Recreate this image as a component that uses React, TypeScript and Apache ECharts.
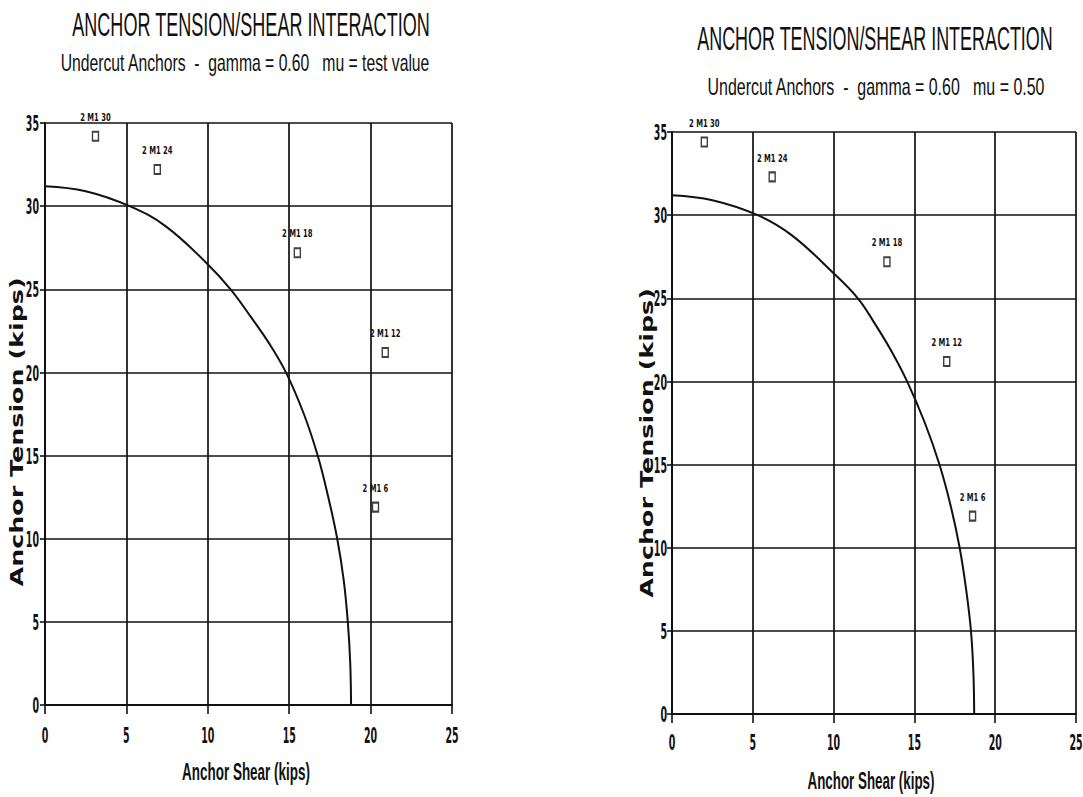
import React, { useEffect, useRef } from "react";
import * as echarts from "echarts";

const TITLE = "ANCHOR TENSION/SHEAR INTERACTION";
const SUBTITLE_LEFT = "Undercut Anchors  -  gamma = 0.60   mu = test value";
const SUBTITLE_RIGHT = "Undercut Anchors  -  gamma = 0.60   mu = 0.50";
const X_NAME = "Anchor Shear (kips)";
const Y_NAME = "Anchor Tension (kips)";

const X_TICKS = [0, 5, 10, 15, 20, 25];
const Y_TICKS = [0, 5, 10, 15, 20, 25, 30, 35];

const TEST_LABELS = ["2 M1 30", "2 M1 24", "2 M1 18", "2 M1 12", "2 M1 6"];
const LEFT_SHEAR = [3.1, 6.9, 15.5, 20.9, 20.3];
const LEFT_TENSION = [34.2, 32.2, 27.2, 21.2, 11.9];
const RIGHT_SHEAR = [2.0, 6.2, 13.3, 17.0, 18.6];
const RIGHT_TENSION = [34.4, 32.3, 27.2, 21.2, 11.9];

const LEFT_CURVE_SHEAR = [0, 2.5, 5.2, 7.4, 9.9, 11.4, 12.6, 13.8, 14.8, 15.9, 16.75, 17.4, 17.95, 18.35, 18.6, 18.75, 18.8];
const LEFT_CURVE_TENSION = [31.2, 30.9, 30, 28.8, 26.6, 25, 23.4, 21.7, 20, 17.5, 15, 12.5, 10, 7.5, 5, 2.5, 0];
const RIGHT_CURVE_SHEAR = [0, 2.5, 5.3, 7.4, 9.9, 11.5, 12.6, 13.65, 14.55, 15.65, 16.55, 17.25, 17.8, 18.2, 18.5, 18.65, 18.7];
const RIGHT_CURVE_TENSION = [31.2, 30.9, 30, 28.8, 26.6, 25, 23.4, 21.7, 20, 17.5, 15, 12.5, 10, 7.5, 5, 2.5, 0];

const INK = "#111";
const SANS = '"Liberation Sans", Arial, sans-serif';
const WIDE = '"DejaVu Sans", Verdana, sans-serif';

function measure(text: string, font: string): number {
  const c = document.createElement("canvas").getContext("2d");
  if (!c) return text.length * 10;
  c.font = font;
  return c.measureText(text).width || text.length * 10;
}

function fitText(
  text: string,
  x: number,
  y: number,
  width: number,
  fontSize: number,
  family: string,
  weight: string,
  rotation = 0
) {
  const w = measure(text, `${weight} ${fontSize}px ${family}`);
  return {
    type: "text",
    x,
    y,
    rotation,
    scaleX: width / w,
    scaleY: 1,
    silent: true,
    style: {
      text,
      fontSize,
      fontFamily: family,
      fontWeight: weight,
      fill: INK,
      align: "center",
      verticalAlign: "middle",
    },
  };
}

function xAxis(gridIndex: number) {
  return {
    type: "value",
    gridIndex,
    min: X_TICKS[0],
    max: X_TICKS[X_TICKS.length - 1],
    interval: X_TICKS[1] - X_TICKS[0],
    axisLine: { show: true, onZero: false, lineStyle: { color: INK, width: 2 } },
    axisTick: { show: true, length: 9, lineStyle: { color: INK, width: 1.6 } },
    axisLabel: { show: false },
    splitLine: { show: true, lineStyle: { color: INK, width: 1.7 } },
  };
}

function yAxis(gridIndex: number) {
  return {
    type: "value",
    gridIndex,
    min: Y_TICKS[0],
    max: Y_TICKS[Y_TICKS.length - 1],
    interval: Y_TICKS[1] - Y_TICKS[0],
    axisLine: { show: true, onZero: false, lineStyle: { color: INK, width: 2 } },
    axisTick: { show: true, length: 5, lineStyle: { color: INK, width: 1.6 } },
    axisLabel: { show: false },
    splitLine: { show: true, lineStyle: { color: INK, width: 1.7 } },
  };
}

// Narrow tick labels, positioned through the axes' own scales.
function tickLabels(idx: number, which: "x" | "y", offset: number) {
  const data =
    which === "x"
      ? X_TICKS.map((v) => [v, Y_TICKS[0]])
      : Y_TICKS.map((v) => [X_TICKS[0], v]);
  return {
    type: "custom",
    xAxisIndex: idx,
    yAxisIndex: idx,
    data,
    clip: false,
    silent: true,
    z: 5,
    renderItem: (params: any, api: any) => {
      const xv = api.value(0);
      const yv = api.value(1);
      const p = api.coord([xv, yv]);
      const text = String(which === "x" ? xv : yv);
      return {
        type: "text",
        x: which === "x" ? p[0] : p[0] - offset,
        y: which === "x" ? p[1] + offset : p[1] + 1,
        scaleX: 0.45,
        style: {
          text,
          fontSize: 21,
          fontWeight: "bold",
          fontFamily: WIDE,
          fill: INK,
          align: which === "x" ? "center" : "right",
          verticalAlign: "middle",
        },
      };
    },
  };
}

function curveSeries(idx: number, xs: number[], ys: number[]) {
  return {
    type: "line",
    xAxisIndex: idx,
    yAxisIndex: idx,
    data: xs.map((x, i) => [x, ys[i]]),
    smooth: 0.4,
    symbol: "none",
    lineStyle: { color: INK, width: 2 },
    silent: true,
    z: 3,
  };
}

function pointSeries(idx: number, xs: number[], ys: number[]) {
  return {
    type: "scatter",
    xAxisIndex: idx,
    yAxisIndex: idx,
    data: xs.map((x, i) => ({ name: TEST_LABELS[i], value: [x, ys[i]] })),
    symbol: "rect",
    symbolSize: [6, 9],
    itemStyle: { color: "#fff", borderColor: INK, borderWidth: 1.7 },
    silent: true,
    z: 4,
  };
}

function pointLabels(idx: number, xs: number[], ys: number[]) {
  return {
    type: "custom",
    xAxisIndex: idx,
    yAxisIndex: idx,
    data: xs.map((x, i) => ({ name: TEST_LABELS[i], value: [x, ys[i]] })),
    clip: false,
    silent: true,
    z: 5,
    renderItem: (params: any, api: any) => {
      const p = api.coord([api.value(0), api.value(1)]);
      return {
        type: "text",
        x: p[0],
        y: p[1] - 19,
        scaleX: 0.62,
        style: {
          text: TEST_LABELS[params.dataIndex],
          fontSize: 11,
          fontWeight: "bold",
          fontFamily: WIDE,
          fill: INK,
          align: "center",
          verticalAlign: "middle",
        },
      };
    },
  };
}

export default function App() {
  const ref = useRef<HTMLDivElement>(null);
  useEffect(() => {
    if (!ref.current) return;
    const chart = echarts.init(ref.current, null, { renderer: "svg" });
    const option = {
      animation: false,
      backgroundColor: "#fff",
      grid: [
        { left: 45, top: 123, width: 407, height: 582 },
        { left: 672, top: 132, width: 404, height: 582 },
      ],
      xAxis: [xAxis(0), xAxis(1)],
      yAxis: [yAxis(0), yAxis(1)],
      series: [
        curveSeries(0, LEFT_CURVE_SHEAR, LEFT_CURVE_TENSION),
        pointSeries(0, LEFT_SHEAR, LEFT_TENSION),
        pointLabels(0, LEFT_SHEAR, LEFT_TENSION),
        tickLabels(0, "x", 31),
        tickLabels(0, "y", 6),
        curveSeries(1, RIGHT_CURVE_SHEAR, RIGHT_CURVE_TENSION),
        pointSeries(1, RIGHT_SHEAR, RIGHT_TENSION),
        pointLabels(1, RIGHT_SHEAR, RIGHT_TENSION),
        tickLabels(1, "x", 29),
        tickLabels(1, "y", 5),
      ],
      graphic: [
        fitText(TITLE, 251, 25, 358, 33, SANS, "normal"),
        fitText(SUBTITLE_LEFT, 245, 63, 370, 23, SANS, "normal"),
        fitText(TITLE, 875, 39, 356, 33, SANS, "normal"),
        fitText(SUBTITLE_RIGHT, 876, 87, 338, 23, SANS, "normal"),
        fitText(X_NAME, 246, 771, 128, 24, SANS, "bold"),
        fitText(X_NAME, 871, 780, 127, 24, SANS, "bold"),
        fitText(Y_NAME, 17, 432, 309, 18, WIDE, "bold", Math.PI / 2),
        fitText(Y_NAME, 647, 443, 310, 18, WIDE, "bold", Math.PI / 2),
      ],
    };
    chart.setOption(option as any);
    return () => chart.dispose();
  }, []);
  return (
    <div
      ref={ref}
      style={{ position: "fixed", left: 0, top: 0, width: 1083, height: 797, background: "#fff" }}
    />
  );
}
